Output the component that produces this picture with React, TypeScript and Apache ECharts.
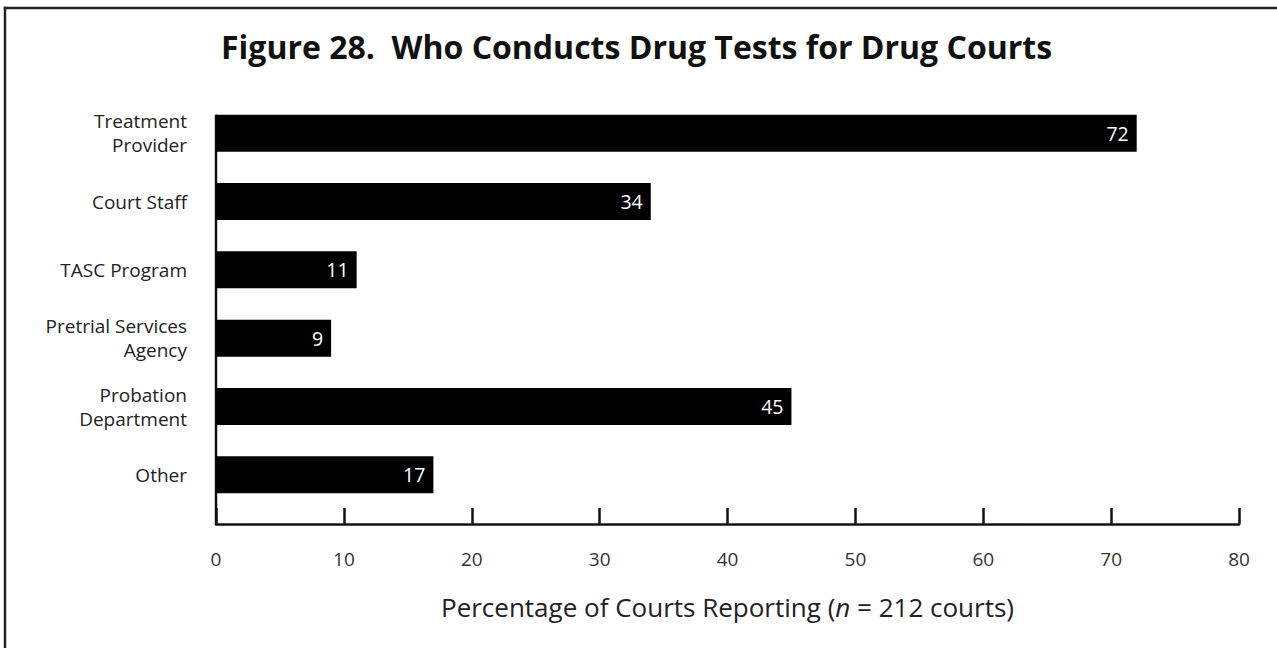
import React, { useEffect, useRef } from "react";
import * as echarts from "echarts";

const categories = [
  "Treatment\nProvider",
  "Court Staff",
  "TASC Program",
  "Pretrial Services\nAgency",
  "Probation\nDepartment",
  "Other",
];
const values = [72, 34, 11, 9, 45, 17];
const xTicks = [0, 10, 20, 30, 40, 50, 60, 70, 80];

const FONT = "'Open Sans', Lato, sans-serif";

export default function App() {
  const ref = useRef<HTMLDivElement>(null);
  useEffect(() => {
    if (!ref.current) return;
    const chart = echarts.init(ref.current, undefined, { renderer: "svg" });
    const option: any = {
      animation: false,
      backgroundColor: "#ffffff",
      title: {
        text: "Figure 28.  Who Conducts Drug Tests for Drug Courts",
        left: 216,
        top: 25,
        textStyle: { fontFamily: FONT, fontSize: 32, fontWeight: "bold", color: "#111" },
      },
      grid: { left: 216, right: 38, top: 99, bottom: 139, containLabel: false },
      xAxis: {
        type: "value",
        min: xTicks[0],
        max: xTicks[xTicks.length - 1],
        interval: 10,
        offset: 15,
        axisLine: { show: true, lineStyle: { color: "#111", width: 2.5 } },
        axisTick: { show: true, inside: true, length: 16, lineStyle: { color: "#111", width: 2.5 } },
        splitLine: { show: false },
        axisLabel: { margin: 25, fontFamily: FONT, fontSize: 19, color: "#333" },
        name: "Percentage of Courts Reporting ({i|n} = 212 courts)",
        nameLocation: "middle",
        nameGap: 70,
        nameTextStyle: {
          fontFamily: FONT,
          fontSize: 26,
          color: "#222",
          rich: { i: { fontFamily: FONT, fontSize: 26, fontStyle: "italic", color: "#222" } },
        },
      },
      yAxis: {
        type: "category",
        data: categories,
        inverse: true,
        axisLine: { show: false },
        axisTick: { show: false },
        axisLabel: {
          margin: 29,
          fontFamily: FONT,
          fontSize: 19,
          lineHeight: 24,
          color: "#222",
          align: "right",
        },
      },
      series: [
        {
          type: "bar",
          data: values,
          barWidth: 37,
          itemStyle: { color: "#000" },
          label: {
            show: true,
            position: "insideRight",
            distance: 8,
            color: "#fff",
            fontFamily: FONT,
            fontSize: 19.5,
          },
        },
      ],
    };
    chart.setOption(option);
    const yTop = (chart.convertToPixel({ yAxisIndex: 0 }, categories[0]) as number) - 18.5;
    const gridBottom = 648 - 139 + 15;
    chart.setOption({
      graphic: [
        {
          type: "line",
          shape: { x1: 5, y1: 6.8, x2: 5, y2: 648 },
          style: { stroke: "#222", lineWidth: 2.5 },
          silent: true,
        },
        {
          type: "line",
          shape: { x1: 3.8, y1: 8, x2: 1277, y2: 8 },
          style: { stroke: "#222", lineWidth: 2.5 },
          silent: true,
        },
        {
          type: "line",
          shape: { x1: 216, y1: yTop, x2: 216, y2: gridBottom },
          style: { stroke: "#111", lineWidth: 2.5 },
          silent: true,
        },
      ],
    });
    return () => chart.dispose();
  }, []);
  return (
    <div
      ref={ref}
      style={{ position: "fixed", left: 0, top: 0, width: 1277, height: 648 }}
    />
  );
}
